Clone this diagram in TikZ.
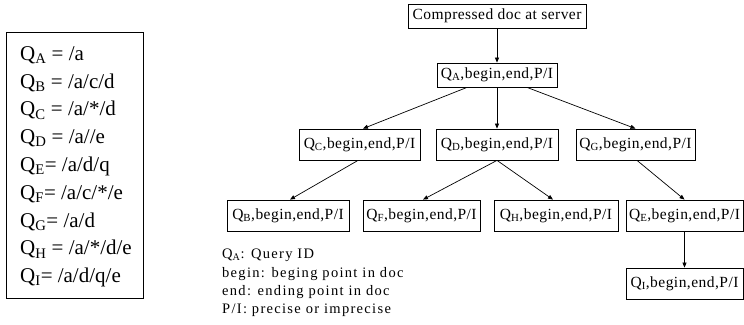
\documentclass[tikz,border=0pt]{standalone}
\usepackage{fontspec}
\setmainfont{Liberation Serif}
\newfontfamily\boxfont[LetterSpace=3]{Liberation Serif}
\newfontfamily\legfont[LetterSpace=9]{Liberation Serif}
\usetikzlibrary{arrows.meta}
\begin{document}
\begin{tikzpicture}[x=1pt,y=-1pt,
  qbox/.style={draw,line width=0.8pt,inner sep=0pt,
    font=\boxfont\fontsize{15.5}{18}\selectfont,text height=11pt,text depth=3.5pt},
  listline/.style={anchor=base west,inner sep=0pt,font=\fontsize{21}{24}\selectfont},
  legline/.style={anchor=base west,inner sep=0pt,font=\legfont\fontsize{14.5}{17}\selectfont},
  arr/.style={-{Triangle[length=5pt,width=4pt]},line width=0.7pt}]
\useasboundingbox (0,0) rectangle (744,324);
% left list
\node[draw,line width=0.8pt,minimum width=137pt,minimum height=266pt,inner sep=0pt] (qlist) at (74.5,165) {};
\node[listline] (la) at (20,60.3) {Q\textsubscript{A} = /a};
\node[listline] (lb) at (20,88.1) {Q\textsubscript{B} = /a/c/d};
\node[listline] (lc) at (20,115.9) {Q\textsubscript{C} = /a/*/d};
\node[listline] (ld) at (20,143.7) {Q\textsubscript{D} = /a//e};
\node[listline] (le) at (20,171.5) {Q\textsubscript{E}= /a/d/q};
\node[listline] (lf) at (20,199.3) {Q\textsubscript{F}= /a/c/*/e};
\node[listline] (lg) at (20,227.1) {Q\textsubscript{G}= /a/d};
\node[listline] (lh) at (20,254.9) {Q\textsubscript{H} = /a/*/d/e};
\node[listline] (li) at (20,282.7) {Q\textsubscript{I}= /a/d/q/e};
% tree
\node[qbox,minimum width=178pt,minimum height=24pt] (top) at (497,16) {Compressed doc at server};
\node[qbox,minimum width=120pt,minimum height=24pt] (QA) at (497,75) {Q\textsubscript{A},begin,end,P/I};
\node[qbox,minimum width=121pt,minimum height=31pt] (QC) at (359.5,144.5) {Q\textsubscript{C},begin,end,P/I};
\node[qbox,minimum width=122pt,minimum height=31pt] (QD) at (497,144.5) {Q\textsubscript{D},begin,end,P/I};
\node[qbox,minimum width=119pt,minimum height=31pt] (QG) at (635.5,144.5) {Q\textsubscript{G},begin,end,P/I};
\node[qbox,minimum width=122pt,minimum height=31pt] (QB) at (288,215.5) {Q\textsubscript{B},begin,end,P/I};
\node[qbox,minimum width=117pt,minimum height=31pt] (QF) at (421.5,215.5) {Q\textsubscript{F},begin,end,P/I};
\node[qbox,minimum width=124pt,minimum height=31pt] (QH) at (556,215.5) {Q\textsubscript{H},begin,end,P/I};
\node[qbox,minimum width=117pt,minimum height=31pt] (QE) at (684.5,215.5) {Q\textsubscript{E},begin,end,P/I};
\node[qbox,minimum width=117pt,minimum height=31pt] (QI) at (684.5,283.5) {Q\textsubscript{I},begin,end,P/I};
% arrows
\draw[arr] (top.south) -- (QA.north);
\draw[arr] ([xshift=-30pt]QA.south) -- ([xshift=3.5pt]QC.north);
\draw[arr] (QA.south) -- (QD.north);
\draw[arr] ([xshift=30pt]QA.south) -- (QG.north);
\draw[arr] ([xshift=-1.5pt]QC.south) -- ([xshift=2pt]QB.north);
\draw[arr] (QD.south) -- ([xshift=1.5pt]QF.north);
\draw[arr] (QD.south) -- ([xshift=-3pt]QH.north);
\draw[arr] ([xshift=1.5pt]QG.south) -- (QE.north);
\draw[arr] (QE.south) -- (QI.north);
% legend
\node[legline] (k1) at (222,258) {Q\textsubscript{A}: Query ID};
\node[legline] (k2) at (222,277.5) {begin: beging point in doc};
\node[legline] (k3) at (222,295) {end: ending point in doc};
\node[legline] (k4) at (222,313) {P/I: precise or imprecise};
\end{tikzpicture}
\end{document}
